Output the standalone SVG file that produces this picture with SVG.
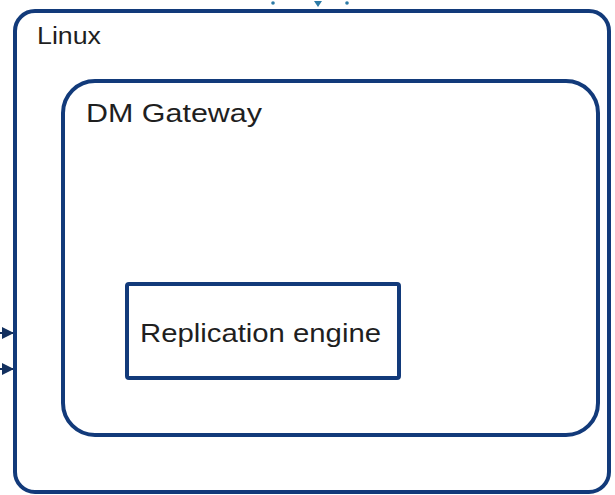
<svg xmlns="http://www.w3.org/2000/svg" width="615" height="495" viewBox="0 0 615 495">
<defs>
<marker id="ah" markerWidth="12" markerHeight="12" refX="11" refY="6" orient="auto" markerUnits="userSpaceOnUse">
<path d="M0,0 L12,6 L0,12 Z" fill="#13305f"/>
</marker>
<style>
.box{fill:#ffffff;stroke:#123a7a;stroke-width:4;stroke-linejoin:round}
.lbl{font-family:"Liberation Sans","DejaVu Sans",sans-serif;fill:#1f1f1f}
.conn{stroke:#13305f;stroke-width:2;fill:none}
.top{fill:#2c7aa6}
</style>
</defs>
<rect width="615" height="495" fill="#ffffff"/>
<g id="connectors">
<line class="conn" x1="-5" y1="333" x2="13" y2="333" marker-end="url(#ah)"/>
<line class="conn" x1="-5" y1="369" x2="13" y2="369" marker-end="url(#ah)"/>
<circle class="top" cx="273" cy="3" r="1.8"/>
<path class="top" d="M314,1 L322,1 L318,7 Z"/>
<circle class="top" cx="347" cy="3" r="1.8"/>
</g>
<g id="linux">
<rect class="box" x="15" y="11" width="594" height="481" rx="20" ry="20"/>
<text class="lbl" x="37" y="44" font-size="23" textLength="64" lengthAdjust="spacingAndGlyphs">Linux</text>
</g>
<g id="dm-gateway">
<rect class="box" x="63" y="81" width="535" height="354" rx="32" ry="32"/>
<text class="lbl" x="86" y="122" font-size="26" textLength="176" lengthAdjust="spacingAndGlyphs">DM Gateway</text>
</g>
<g id="replication-engine">
<rect class="box" x="127" y="284" width="272" height="94" rx="2" ry="2"/>
<text class="lbl" x="140" y="342" font-size="26" textLength="241" lengthAdjust="spacingAndGlyphs">Replication engine</text>
</g>
</svg>
